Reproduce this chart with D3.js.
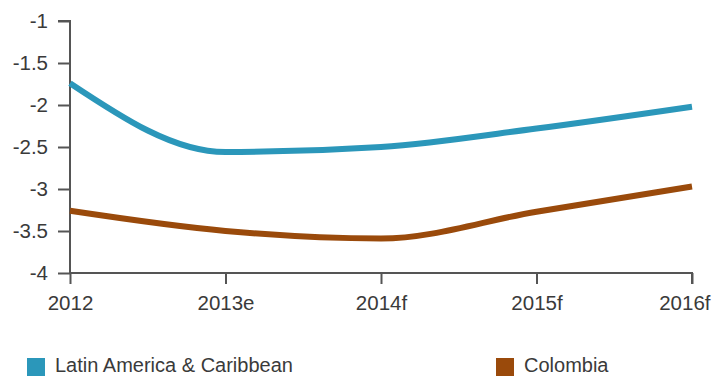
<!DOCTYPE html>
<html>
<head>
<meta charset="utf-8">
<script src="https://cdn.jsdelivr.net/npm/d3@7"></script>
<style>
  html, body { margin: 0; padding: 0; background: #fff; }
  svg { display: block; }
  text { font-family: "Liberation Sans", Arial, sans-serif; fill: #3a3a3a; }
</style>
</head>
<body>
<svg id="chart" width="713" height="376"></svg>
<script>
// Fiscal balance outlook, % of GDP
const years = ["2012", "2013e", "2014f", "2015f", "2016f"];
const latamValues = [-1.74, -2.56, -2.50, -2.28, -2.02];
const colombiaValues = [-3.26, -3.50, -3.59, -3.27, -2.97];
const yTicks = [-1, -1.5, -2, -2.5, -3, -3.5, -4];
const seriesNames = ["Latin America & Caribbean", "Colombia"];
const seriesColors = ["#2b97ba", "#9a4a0b"];

const svg = d3.select("#chart");
const margin = { left: 70, right: 21, top: 21, bottom: 103 };
const W = 713, H = 376;

const x = d3.scalePoint().domain(years).range([margin.left, W - margin.right]);
const y = d3.scaleLinear().domain([-4, -1]).range([H - margin.bottom, margin.top]);

// Y axis
const yAxis = svg.append("g")
  .attr("transform", `translate(${margin.left},0)`)
  .call(d3.axisLeft(y).tickValues(yTicks).tickSize(12).tickPadding(10).tickFormat(d => String(d)));
// X axis
const xAxis = svg.append("g")
  .attr("transform", `translate(0,${y(-4)})`)
  .call(d3.axisBottom(x).tickSize(11).tickPadding(11).tickSizeOuter(0));

[yAxis, xAxis].forEach(g => {
  g.selectAll("path, line").attr("stroke", "#555").attr("stroke-width", 2);
  g.selectAll("text").attr("font-size", 20.5).attr("fill", "#3a3a3a")
    .style("font-family", "'Liberation Sans', Arial, sans-serif");
});
yAxis.select(".domain").attr("d", `M-12,${y(-1)}H0V${y(-4)}`);
xAxis.select(".domain").attr("d", `M${x(years[0])},0H${x(years[years.length - 1])}V11`);
// keep the last year label inside the frame
xAxis.selectAll(".tick").filter(d => d === years[years.length - 1])
  .select("text").attr("text-anchor", "end").attr("x", W - 3 - x(years[years.length - 1]));

const line = d3.line()
  .x((d, i) => x(years[i]))
  .y(d => y(d))
  .curve(d3.curveMonotoneX);

[latamValues, colombiaValues].forEach((vals, k) => {
  svg.append("path")
    .datum(vals)
    .attr("fill", "none")
    .attr("stroke", seriesColors[k])
    .attr("stroke-width", 6)
    .attr("d", line);
});

// Legend
const legendX = [27, 496];
seriesNames.forEach((name, k) => {
  const g = svg.append("g").attr("transform", `translate(${legendX[k]},358)`);
  g.append("rect").attr("width", 18).attr("height", 18).attr("fill", seriesColors[k]);
  g.append("text").attr("x", 28).attr("y", 14).attr("font-size", 20).text(name);
});
</script>
</body>
</html>
